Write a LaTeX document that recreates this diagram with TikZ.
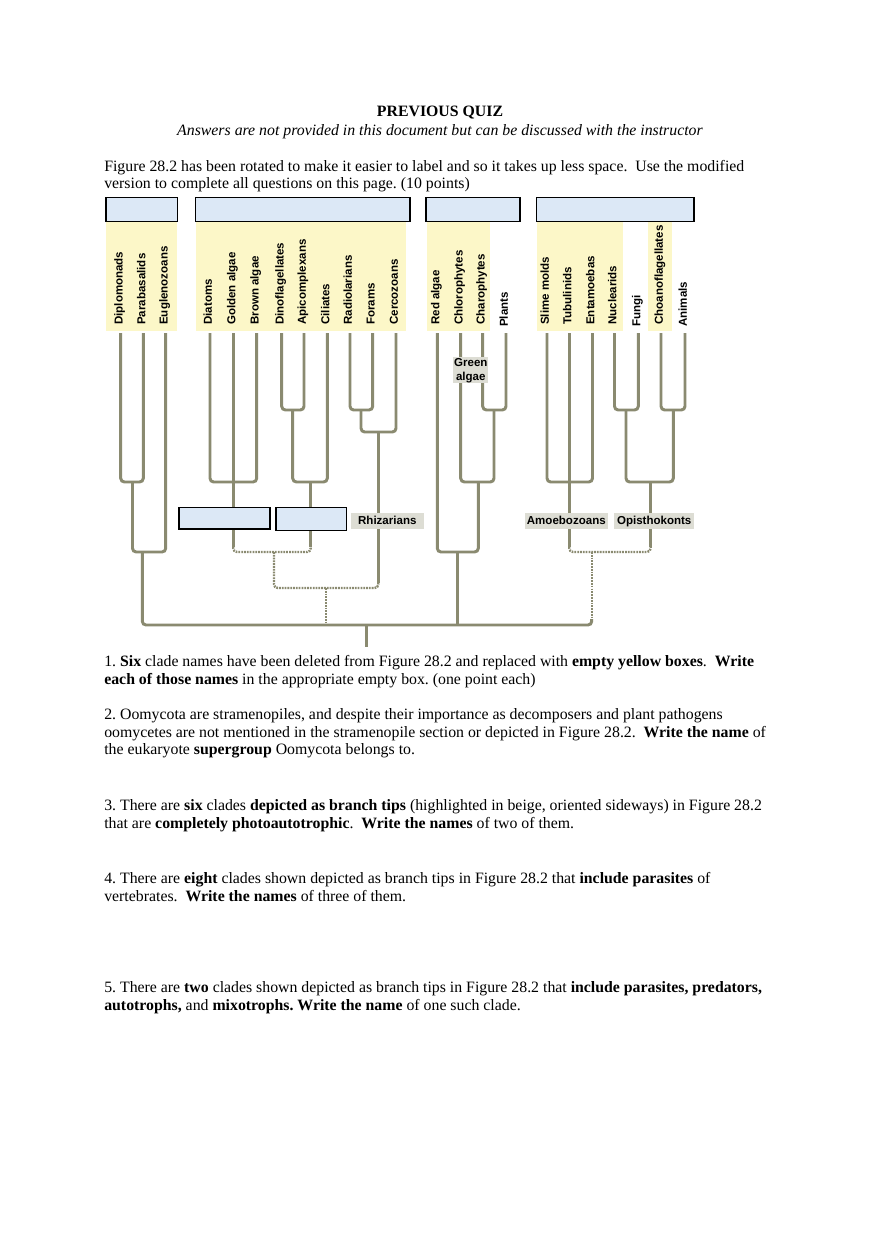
\documentclass[tikz,border=0pt]{standalone}
\usepackage{fontspec}
\setmainfont{Liberation Serif}
\newfontfamily\labfam{Liberation Sans}
\frenchspacing
\definecolor{brc}{RGB}{138,138,112}
\definecolor{yelc}{RGB}{252,247,200}
\definecolor{bluec}{RGB}{220,232,246}
\definecolor{grayc}{RGB}{221,221,212}
\newcommand{\labfont}{\labfam\bfseries\fontsize{7.8}{9.4}\selectfont}
\newcommand{\txtfont}{\fontsize{10.7}{12}\selectfont}
\tikzset{
  br/.style={draw=brc, line width=2pt, rounded corners=2.5pt},
  brdot/.style={draw=brc, line width=1.6pt, dash pattern=on 1.2pt off 0.7pt, rounded corners=2.5pt},
  yel/.style={fill=yelc, draw=none},
  bluebox/.style={draw=black, line width=1pt, fill=bluec},
  graylab/.style={fill=grayc, inner sep=0pt, font=\labfont, align=center},
  tiplab/.style={rotate=90, anchor=west, inner sep=0pt, font=\labfont, text height=5.6pt, text depth=1.6pt},
  txt/.style={anchor=base west, inner sep=0pt, font=\txtfont},
  txtc/.style={anchor=base, inner sep=0pt, font=\txtfont}
}
\begin{document}
\begin{tikzpicture}[x=0.6765pt,y=-0.6765pt]
\fill[white] (0,0) rectangle (880,1247);
\useasboundingbox (0,0) rectangle (880,1247);

% ---------- header text ----------
\node[txtc] (title) at (440,117) {\textbf{PREVIOUS QUIZ}};
\node[txtc] (sub) at (440,136) {\textit{Answers are not provided in this document but can be discussed with the instructor}};
\node[txt] (f1) at (104,171) {Figure 28.2 has been rotated to make it easier to label and so it takes up less space.~ Use the modified};
\node[txt] (f2) at (104,188.7) {version to complete all questions on this page. (10 points)};

% ---------- yellow highlights ----------
\fill[yel] (106,215) rectangle (177,331);
\fill[yel] (195.7,215) rectangle (406,331);
\fill[yel] (426.7,215) rectangle (490,331);
\fill[yel] (536.7,215) rectangle (623,331);
\fill[yel] (648,221.7) rectangle (671.7,331);

% ---------- top empty boxes ----------
\draw[bluebox] (106,197.3) rectangle (177.3,221.7);
\draw[bluebox] (195.7,197.3) rectangle (410,221.7);
\draw[bluebox] (426,197.3) rectangle (520,221.7);
\draw[bluebox] (536.7,197.3) rectangle (694,221.7);

% ---------- tip coordinates ----------
\coordinate (t1) at (120.7,333);
\coordinate (t2) at (143.3,333);
\coordinate (t3) at (165.7,333);
\coordinate (t4) at (210,333);
\coordinate (t5) at (233.3,333);
\coordinate (t6) at (256.7,333);
\coordinate (t7) at (281.7,333);
\coordinate (t8) at (304,333);
\coordinate (t9) at (327.3,333);
\coordinate (t10) at (350,333);
\coordinate (t11) at (372.7,333);
\coordinate (t12) at (396,333);
\coordinate (t13) at (437.3,333);
\coordinate (t14) at (460.7,333);
\coordinate (t15) at (482.7,333);
\coordinate (t16) at (506,333);
\coordinate (t17) at (547,333);
\coordinate (t18) at (569.3,333);
\coordinate (t19) at (592.5,333);
\coordinate (t20) at (614.5,333);
\coordinate (t21) at (638.3,333);
\coordinate (t22) at (661,333);
\coordinate (t23) at (685,333);

% ---------- tip labels ----------
\node[tiplab] (l1) at (119.7,325) {Diplomonads};
\node[tiplab] (l2) at (142.3,325) {Parabasalids};
\node[tiplab] (l3) at (164.7,325) {Euglenozoans};
\node[tiplab] (l4) at (209,325) {Diatoms};
\node[tiplab] (l5) at (232.3,325) {Golden algae};
\node[tiplab] (l6) at (255.7,325) {Brown algae};
\node[tiplab] (l7) at (280.7,325) {Dinoflagellates};
\node[tiplab] (l8) at (303,325) {Apicomplexans};
\node[tiplab] (l9) at (326.3,325) {Ciliates};
\node[tiplab] (l10) at (349,325) {Radiolarians};
\node[tiplab] (l11) at (371.7,325) {Forams};
\node[tiplab] (l12) at (395,325) {Cercozoans};
\node[tiplab] (l13) at (436.3,325) {Red algae};
\node[tiplab] (l14) at (459.7,325) {Chlorophytes};
\node[tiplab] (l15) at (481.7,325) {Charophytes};
\node[tiplab] (l16) at (505,327) {Plants};
\node[tiplab] (l17) at (546,325) {Slime molds};
\node[tiplab] (l18) at (568.3,325) {Tubulinids};
\node[tiplab] (l19) at (591.5,325) {Entamoebas};
\node[tiplab] (l20) at (613.5,325) {Nuclearids};
\node[tiplab] (l21) at (637.3,327) {Fungi};
\node[tiplab] (l22) at (660,325) {Choanoflagellates};
\node[tiplab] (l23) at (684,327) {Animals};

% ---------- junction coordinates ----------
\coordinate (j1) at (132.5,482);
\coordinate (j2) at (142.3,552);
\coordinate (s1) at (233.3,482);
\coordinate (s2) at (233.3,547);
\coordinate (sa) at (274,552);
\coordinate (a0) at (292.7,410);
\coordinate (a1) at (310.7,482);
\coordinate (a2) at (310.7,547);
\coordinate (z0) at (361,410);
\coordinate (rz) at (378.3,432);
\coordinate (rz2) at (378.3,583);
\coordinate (sar) at (326,588);
\coordinate (sarb) at (326,625);
\coordinate (p0) at (494,410);
\coordinate (p1) at (478.3,482);
\coordinate (p2) at (457.7,552);
\coordinate (p3) at (457.7,625);
\coordinate (u1) at (569.3,482);
\coordinate (u2) at (569.3,547);
\coordinate (o1) at (626,410);
\coordinate (o2) at (673.3,410);
\coordinate (o3) at (650.7,482);
\coordinate (o4) at (650.7,547);
\coordinate (u3) at (591.7,552);
\coordinate (u4) at (591.7,619);
\coordinate (r) at (366.7,625);
\coordinate (rb) at (366.7,647);

% ---------- tree: excavates ----------
\draw[br] (t1) |- (j1) -| (t2);
\draw[br] (j1) |- (j2) -| (t3);
% stramenopiles
\draw[br] (t4) |- (s1) -| (t6);
\draw[br] (t5) -- (s1) -- (s2);
% alveolates
\draw[br] (t7) |- (a0) -| (t8);
\draw[br] (a0) |- (a1) -| (t9);
\draw[br] (a1) -- (a2);
\draw[brdot] (s2) |- (sa) -| (a2);
% rhizarians
\draw[br] (t10) |- (z0) -| (t11);
\draw[br] (z0) |- (rz) -| (t12);
\draw[br] (rz) -- (rz2);
\draw[brdot] (sa) |- (sar) -| (rz2);
\draw[brdot] (sar) -- (sarb);
% archaeplastida
\draw[br] (t15) |- (p0) -| (t16);
\draw[br] (t14) |- (p1) -| (p0);
\draw[br] (t13) |- (p2) -| (p1);
\draw[br] (p2) -- (p3);
% unikonts
\draw[br] (t17) |- (u1) -| (t19);
\draw[br] (t18) -- (u1) -- (u2);
\draw[br] (t20) |- (o1) -| (t21);
\draw[br] (t22) |- (o2) -| (t23);
\draw[br] (o1) |- (o3) -| (o2);
\draw[br] (o3) -- (o4);
\draw[brdot] (u2) |- (u3) -| (o4);
\draw[brdot] (u3) -- (u4);
% main line and root
\draw[br] (j2) |- (r) -| (u4);
\draw[br] (r) -- (rb);

% ---------- boxes and labels on the tree ----------
\draw[bluebox] (179,507.3) rectangle (270,529);
\draw[bluebox] (276,507.3) rectangle (346.7,530.7);
\node[graylab, text height=5.7pt, text depth=1.6pt, minimum width=73.3*0.6765pt, minimum height=16*0.6765pt] (rhiz) at (387.3,521.3) {Rhizarians};
\node[graylab, text height=5.7pt, text depth=1.6pt, minimum width=82.7*0.6765pt, minimum height=16*0.6765pt] (amoe) at (566.3,521) {Amoebozoans};
\node[graylab, text height=5.7pt, text depth=1.6pt, minimum width=79.7*0.6765pt, minimum height=16*0.6765pt] (opis) at (654.2,521) {Opisthokonts};
\node[graylab, minimum width=35*0.6765pt, minimum height=26*0.6765pt] (green) at (470.8,370.3) {Green\\algae};

% ---------- questions ----------
\node[txt] (q1a) at (104,666.7) {1. \textbf{Six} clade names have been deleted from Figure 28.2 and replaced with \textbf{empty yellow boxes}.~ \textbf{Write}};
\node[txt] (q1b) at (104,684.4) {\textbf{each of those names} in the appropriate empty box. (one point each)};
\node[txt] (q2a) at (104,719.3) {2. Oomycota are stramenopiles, and despite their importance as decomposers and plant pathogens};
\node[txt] (q2b) at (104,737) {oomycetes are not mentioned in the stramenopile section or depicted in Figure 28.2.~ \textbf{Write the name} of};
\node[txt] (q2c) at (104,754.7) {the eukaryote \textbf{supergroup} Oomycota belongs to.};
\node[txt] (q3a) at (104,810.7) {3. There are \textbf{six} clades \textbf{depicted as branch tips} (highlighted in beige, oriented sideways) in Figure 28.2};
\node[txt] (q3b) at (104,828.4) {that are \textbf{completely photoautotrophic}.~ \textbf{Write the names} of two of them.};
\node[txt] (q4a) at (104,883.3) {4. There are \textbf{eight} clades shown depicted as branch tips in Figure 28.2 that \textbf{include parasites} of};
\node[txt] (q4b) at (104,901) {vertebrates.~ \textbf{Write the names} of three of them.};
\node[txt] (q5a) at (104,992.3) {5. There are \textbf{two} clades shown depicted as branch tips in Figure 28.2 that \textbf{include parasites, predators,}};
\node[txt] (q5b) at (104,1010) {\textbf{autotrophs,} and \textbf{mixotrophs. Write the name} of one such clade.};
\end{tikzpicture}
\end{document}
